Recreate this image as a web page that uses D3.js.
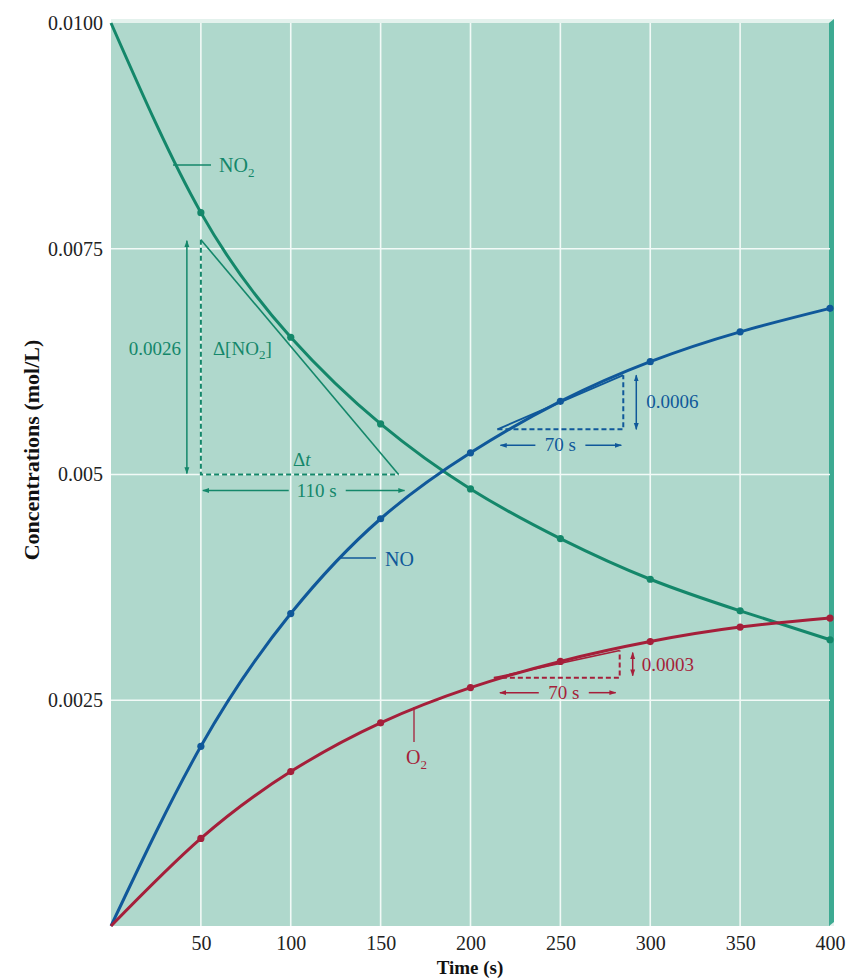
<!DOCTYPE html>
<html>
<head>
<meta charset="utf-8">
<script src="https://cdn.jsdelivr.net/npm/d3@7"></script>
<style>
  html, body { margin: 0; padding: 0; background: #ffffff; }
  svg { display: block; }
  text { font-family: "Liberation Serif", "DejaVu Serif", serif; }
</style>
</head>
<body>
<svg id="chart" width="846" height="980"></svg>
<script>
// Reaction 2NO2 -> 2NO + O2: concentrations over time
const times = [0, 50, 100, 150, 200, 250, 300, 350, 400];
const no2 = [0.0100, 0.00790, 0.00652, 0.00556, 0.00484, 0.00429, 0.00384, 0.00349, 0.00317];
const no  = [0, 0.00199, 0.00346, 0.00451, 0.00524, 0.00581, 0.00625, 0.00658, 0.00684];
const o2  = [0, 0.00097, 0.00171, 0.00225, 0.00264, 0.00293, 0.00315, 0.00331, 0.00341];

const xTicks = [50, 100, 150, 200, 250, 300, 350, 400];
const yTicks = [0.0025, 0.005, 0.0075, 0.0100];
const yTickLabels = ["0.0025", "0.005", "0.0075", "0.0100"];

// Tangent constructions: [t0, c0, t1, c1]
const no2Tangent = [50, 0.0076, 160, 0.0050];
const noTangent  = [215, 0.0055, 285, 0.0061];
const o2Tangent  = [213, 0.00275, 283, 0.00305];

const colNO2 = "#14876a";
const colNO  = "#10589a";
const colO2  = "#a51f3a";
const bg = "#afd8cc";
const FS = 19;

const svg = d3.select("#chart");
const x = d3.scaleLinear().domain([0, 400]).range([111, 830]);
const y = d3.scaleLinear().domain([0, 0.01]).range([926, 23]);

// Arrowhead markers
const defs = svg.append("defs");
[["g", colNO2], ["b", colNO], ["r", colO2]].forEach(([k, c]) => {
  defs.append("marker").attr("id", "arr-" + k)
    .attr("viewBox", "0 0 10 10").attr("refX", 9).attr("refY", 5)
    .attr("markerWidth", 7).attr("markerHeight", 7).attr("orient", "auto-start-reverse")
    .attr("markerUnits", "userSpaceOnUse")
    .append("path").attr("d", "M0,1.5 L10,5 L0,8.5 Z").attr("fill", c);
});

// Plot panel with bevelled edges
svg.append("rect").attr("x", x(0)).attr("y", y(0.01) - 4)
  .attr("width", x(400) - x(0) + 4).attr("height", y(0) - y(0.01) + 4)
  .attr("fill", "#e4f2ed");
svg.append("rect").attr("x", x(0)).attr("y", y(0.01))
  .attr("width", x(400) - x(0)).attr("height", y(0) - y(0.01))
  .attr("fill", bg);
svg.append("path")
  .attr("d", `M${x(400) - 1},${y(0.01)} L${x(400) + 4},${y(0.01) - 4} L${x(400) + 4},${y(0) - 4} L${x(400) - 1},${y(0)} Z`)
  .attr("fill", "#3daa92");

// Grid lines
svg.append("g").selectAll("line").data(xTicks.filter(t => t < 400)).join("line")
  .attr("x1", d => x(d)).attr("x2", d => x(d))
  .attr("y1", y(0)).attr("y2", y(0.01))
  .attr("stroke", "#f2faf7").attr("stroke-width", 1.6);
svg.append("g").selectAll("line").data(yTicks.filter(v => v < 0.01)).join("line")
  .attr("x1", x(0)).attr("x2", x(400))
  .attr("y1", d => y(d)).attr("y2", d => y(d))
  .attr("stroke", "#f2faf7").attr("stroke-width", 1.6);

// Axes (labels only)
const xAxis = svg.append("g").attr("transform", `translate(0,${y(0)})`)
  .call(d3.axisBottom(x).tickValues(xTicks).tickSize(0).tickPadding(10));
xAxis.select(".domain").remove();
xAxis.selectAll("text").attr("font-size", 20).attr("fill", "#222")
  .attr("font-family", "Liberation Serif, serif");

const yAxis = svg.append("g").attr("transform", `translate(${x(0)},0)`)
  .call(d3.axisLeft(y).tickValues(yTicks).tickSize(0).tickPadding(8)
    .tickFormat((d, i) => yTickLabels[i]));
yAxis.select(".domain").remove();
yAxis.selectAll("text").attr("font-size", 20).attr("fill", "#222")
  .attr("font-family", "Liberation Serif, serif");

svg.append("text").attr("x", 470).attr("y", 974).attr("text-anchor", "middle")
  .attr("font-size", 19).attr("font-weight", "bold").attr("fill", "#111").text("Time (s)");
svg.append("text").attr("transform", "translate(39,450) rotate(-90)")
  .attr("text-anchor", "middle").attr("font-size", 22).attr("font-weight", "bold")
  .attr("fill", "#111").text("Concentrations (mol/L)");

// Tangent constructions
function tangent(tg, col, lw) {
  const [t0, c0, t1, c1] = tg;
  const g = svg.append("g");
  const d = c1 < c0
    ? `M${x(t0)},${y(c0)} L${x(t0)},${y(c1)} L${x(t1)},${y(c1)}`
    : `M${x(t0)},${y(c0)} L${x(t1)},${y(c0)} L${x(t1)},${y(c1)}`;
  g.append("path").attr("d", d)
    .attr("fill", "none").attr("stroke", col).attr("stroke-width", 2).attr("stroke-dasharray", "5,3");
  g.append("line").attr("x1", x(t0)).attr("y1", y(c0)).attr("x2", x(t1)).attr("y2", y(c1))
    .attr("stroke", col).attr("stroke-width", lw);
  return g;
}

// NO2 tangent at t = 100 s
tangent(no2Tangent, colNO2, 1.6);
{
  const [t0, c0, t1, c1] = no2Tangent;
  svg.append("line").attr("x1", x(t0) - 14).attr("x2", x(t0) - 14)
    .attr("y1", y(c1) - 1).attr("y2", y(c0) + 1)
    .attr("stroke", colNO2).attr("stroke-width", 1.5)
    .attr("marker-start", "url(#arr-g)").attr("marker-end", "url(#arr-g)");
  svg.append("text").attr("x", x(t0) - 20).attr("y", (y(c0) + y(c1)) / 2 - 2)
    .attr("text-anchor", "end").attr("font-size", FS).attr("fill", colNO2).text("0.0026");
  const dn = svg.append("text").attr("x", x(t0) + 12).attr("y", (y(c0) + y(c1)) / 2 - 2)
    .attr("font-size", FS).attr("fill", colNO2);
  dn.append("tspan").text("Δ[NO");
  dn.append("tspan").attr("font-size", 13).attr("dy", 4).text("2");
  dn.append("tspan").attr("dy", -4).text("]");
  const dt = svg.append("text").attr("x", (x(t0) + x(t1)) / 2 + 2).attr("y", y(c1) - 9)
    .attr("text-anchor", "middle").attr("font-size", FS).attr("fill", colNO2);
  dt.append("tspan").text("Δ");
  dt.append("tspan").attr("font-style", "italic").text("t");
  const ay = y(c1) + 16, mid = (x(t0) + x(t1)) / 2 + 17;
  svg.append("line").attr("x1", mid - 28).attr("x2", x(t0) + 2).attr("y1", ay).attr("y2", ay)
    .attr("stroke", colNO2).attr("stroke-width", 1.5).attr("marker-end", "url(#arr-g)");
  svg.append("line").attr("x1", mid + 29).attr("x2", x(t1) + 6).attr("y1", ay).attr("y2", ay)
    .attr("stroke", colNO2).attr("stroke-width", 1.5).attr("marker-end", "url(#arr-g)");
  svg.append("text").attr("x", mid).attr("y", ay + 6).attr("text-anchor", "middle")
    .attr("font-size", FS).attr("fill", colNO2).text("110 s");
}

// NO tangent
tangent(noTangent, colNO, 1.8);
{
  const [t0, c0, t1, c1] = noTangent;
  const vx = x(t1) + 13;
  svg.append("line").attr("x1", vx).attr("x2", vx).attr("y1", y(c1)).attr("y2", y(c0))
    .attr("stroke", colNO).attr("stroke-width", 1.5)
    .attr("marker-start", "url(#arr-b)").attr("marker-end", "url(#arr-b)");
  svg.append("text").attr("x", vx + 10).attr("y", (y(c0) + y(c1)) / 2 + 6)
    .attr("font-size", FS).attr("fill", colNO).text("0.0006");
  const ay = y(c0) + 16, mid = (x(t0) + x(t1)) / 2;
  svg.append("line").attr("x1", mid - 25).attr("x2", x(t0) + 3).attr("y1", ay).attr("y2", ay)
    .attr("stroke", colNO).attr("stroke-width", 1.5).attr("marker-end", "url(#arr-b)");
  svg.append("line").attr("x1", mid + 25).attr("x2", x(t1) - 2).attr("y1", ay).attr("y2", ay)
    .attr("stroke", colNO).attr("stroke-width", 1.5).attr("marker-end", "url(#arr-b)");
  svg.append("text").attr("x", mid).attr("y", ay + 6).attr("text-anchor", "middle")
    .attr("font-size", FS).attr("fill", colNO).text("70 s");
}

// O2 tangent
tangent(o2Tangent, colO2, 1.6);
{
  const [t0, c0, t1, c1] = o2Tangent;
  const vx = x(t1) + 13;
  svg.append("line").attr("x1", vx).attr("x2", vx).attr("y1", y(c1) + 2).attr("y2", y(c0) - 2)
    .attr("stroke", colO2).attr("stroke-width", 1.5)
    .attr("marker-start", "url(#arr-r)").attr("marker-end", "url(#arr-r)");
  svg.append("text").attr("x", vx + 9).attr("y", (y(c0) + y(c1)) / 2 + 7)
    .attr("font-size", FS).attr("fill", colO2).text("0.0003");
  const ay = y(c0) + 15, mid = (x(t0) + x(t1)) / 2 + 7;
  svg.append("line").attr("x1", mid - 25).attr("x2", x(t0) + 6).attr("y1", ay).attr("y2", ay)
    .attr("stroke", colO2).attr("stroke-width", 1.5).attr("marker-end", "url(#arr-r)");
  svg.append("line").attr("x1", mid + 25).attr("x2", x(t1) - 4).attr("y1", ay).attr("y2", ay)
    .attr("stroke", colO2).attr("stroke-width", 1.5).attr("marker-end", "url(#arr-r)");
  svg.append("text").attr("x", mid).attr("y", ay + 6).attr("text-anchor", "middle")
    .attr("font-size", FS).attr("fill", colO2).text("70 s");
}

// Concentration curves and measured points
const series = [
  { name: "NO2", vals: no2, col: colNO2 },
  { name: "NO", vals: no, col: colNO },
  { name: "O2", vals: o2, col: colO2 }
];
const line = d3.line().x((d, i) => x(times[i])).y(d => y(d)).curve(d3.curveNatural);
series.forEach(s => {
  svg.append("path").datum(s.vals).attr("d", line)
    .attr("fill", "none").attr("stroke", s.col).attr("stroke-width", 3);
  svg.append("g").selectAll("circle").data(s.vals.slice(1)).join("circle")
    .attr("cx", (d, i) => x(times[i + 1])).attr("cy", d => y(d)).attr("r", 3.6)
    .attr("fill", s.col);
});

// Curve labels with leader lines
function sub(el, base, s) {
  el.append("tspan").text(base);
  el.append("tspan").attr("font-size", 13).attr("dy", 5).text(s);
}
svg.append("line").attr("x1", 173).attr("x2", 211).attr("y1", 165).attr("y2", 165)
  .attr("stroke", colNO2).attr("stroke-width", 1.3);
sub(svg.append("text").attr("x", 219).attr("y", 172).attr("font-size", 20).attr("fill", colNO2), "NO", "2");

svg.append("line").attr("x1", 341).attr("x2", 376).attr("y1", 558).attr("y2", 558)
  .attr("stroke", colNO).attr("stroke-width", 1.3);
svg.append("text").attr("x", 385).attr("y", 566).attr("font-size", 20).attr("fill", colNO).text("NO");

svg.append("line").attr("x1", 414).attr("x2", 414).attr("y1", 707).attr("y2", 742)
  .attr("stroke", colO2).attr("stroke-width", 1.3);
sub(svg.append("text").attr("x", 406).attr("y", 764).attr("font-size", 20).attr("fill", colO2), "O", "2");
</script>
</body>
</html>
